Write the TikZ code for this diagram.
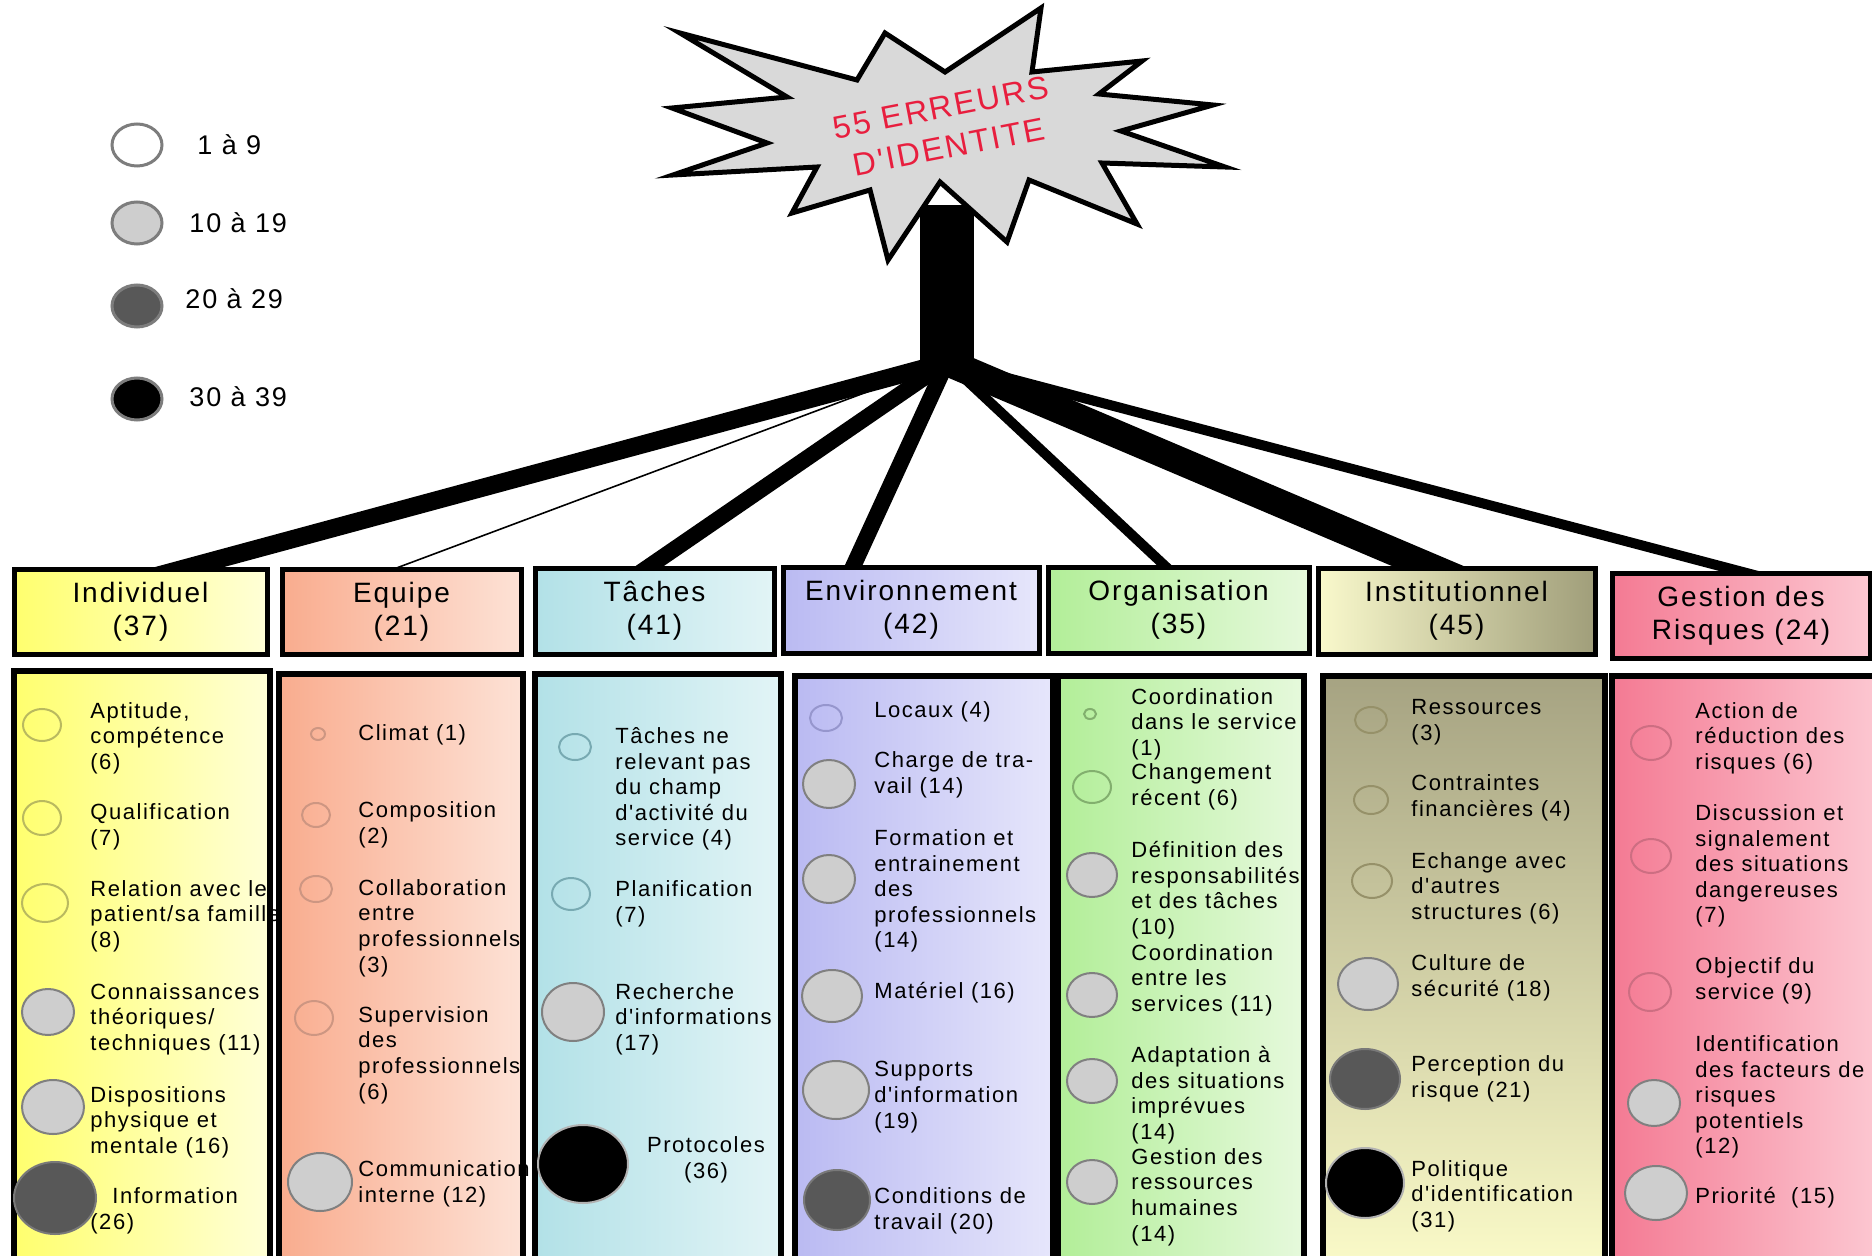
\documentclass[tikz,border=0pt]{standalone}
\usepackage{fontspec}
\setmainfont{Liberation Sans}[LetterSpace=7,Ligatures=TeXOff]
\usetikzlibrary{shapes.geometric,calc,backgrounds}

\definecolor{indL}{RGB}{255,255,110}
\definecolor{indR}{RGB}{255,255,215}
\definecolor{eqL}{RGB}{249,172,142}
\definecolor{eqR}{RGB}{253,226,214}
\definecolor{taL}{RGB}{178,225,231}
\definecolor{taR}{RGB}{226,244,246}
\definecolor{enL}{RGB}{186,186,242}
\definecolor{enR}{RGB}{230,230,251}
\definecolor{orL}{RGB}{178,238,152}
\definecolor{orR}{RGB}{230,249,220}
\definecolor{inL}{RGB}{249,249,204}
\definecolor{inR}{RGB}{160,158,122}
\definecolor{inT}{RGB}{166,163,130}
\definecolor{inB}{RGB}{250,250,200}
\definecolor{geL}{RGB}{244,122,147}
\definecolor{geR}{RGB}{252,200,210}
\definecolor{indDot}{RGB}{185,185,95}
\definecolor{eqDot}{RGB}{205,150,130}
\definecolor{taDot}{RGB}{120,170,178}
\definecolor{enDot}{RGB}{150,150,205}
\definecolor{orDot}{RGB}{130,175,110}
\definecolor{inDot}{RGB}{150,145,105}
\definecolor{geDot}{RGB}{205,110,130}
\definecolor{midgray}{RGB}{206,206,206}
\definecolor{darkdot}{RGB}{88,88,88}
\definecolor{legborder}{RGB}{125,125,125}
\definecolor{starfill}{RGB}{217,217,217}
\definecolor{titlered}{RGB}{232,30,62}

\tikzset{
  hdr/.style={draw,line width=2.5pt,align=center,inner sep=0pt,
    font=\fontsize{14}{16.7}\selectfont},
  box/.style={draw,line width=3pt},
  txt/.style={anchor=west,align=left,inner sep=0pt,
    font=\fontsize{11}{12.8}\selectfont},
  dot/.style={ellipse,inner sep=0pt,line width=1pt},
  dotlow/.style={dot,draw=#1},
  dotmid/.style={dot,draw=gray,fill=midgray},
  dothigh/.style={dot,draw=darkdot!80!white,fill=darkdot},
  dotmax/.style={dot,draw=gray!60,fill=black},
  leg/.style={ellipse,inner sep=0pt,minimum width=25pt,minimum height=21pt,
    line width=1.5pt,draw=legborder},
  legtxt/.style={anchor=west,inner sep=0pt,font=\fontsize{13.5}{16}\selectfont},
  burst/.style={draw,line width=2.5pt,fill=starfill,line join=miter},
  titre/.style={text=titlered,align=center,font=\fontsize{16}{20}\selectfont},
  link/.style={draw=black,line cap=butt}
}

\begin{document}
\begin{tikzpicture}[x=0.5pt,y=-0.5pt]
\useasboundingbox (0,0) rectangle (1872,1256);

% legend
\node[leg,fill=white] (l1) at (137,145) {};
\node[legtxt] (l1t) at (197,145) {1 à 9};
\node[leg,fill=midgray] (l2) at (137,223) {};
\node[legtxt] (l2t) at (189,223) {10 à 19};
\node[leg,fill=darkdot] (l3) at (137,306) {};
\node[legtxt] (l3t) at (185,299) {20 à 29};
\node[leg,fill=black] (l4) at (137,399) {};
\node[legtxt] (l4t) at (189,397) {30 à 39};

% star and rod
\fill (920,205) rectangle (974,372);
\draw[burst] (680,33) -- (857,80) -- (885,33) -- (945,72) -- (1041,8)
  -- (1032,72) -- (1142,61) -- (1099,94) -- (1213,105) -- (1121,131)
  -- (1225,167) -- (1102,163) -- (1137,224) -- (1029,180) -- (1007,242)
  -- (940,182) -- (888,260) -- (870,190) -- (792,213) -- (817,167)
  -- (673,175) -- (767,143) -- (672,108) -- (787,97) -- cycle;
\node[titre,rotate=11] (titre) at (945,127) {55 ERREURS\\D'IDENTITE};
\coordinate (hub) at (947,362);

% headers
\node[hdr,left color=indL,right color=indR,minimum width=126.5pt,minimum height=42.5pt] (hInd) at (140.5,611.5) {Individuel\\(37)};
\node[hdr,left color=eqL,right color=eqR,minimum width=119.5pt,minimum height=42.5pt] (hEq) at (401.5,611.5) {Equipe\\(21)};
\node[hdr,left color=taL,right color=taR,minimum width=119.5pt,minimum height=43pt] (hTa) at (654.5,611) {Tâches\\(41)};
\node[hdr,left color=enL,right color=enR,minimum width=128pt,minimum height=43pt] (hEn) at (911,610) {Environnement\\(42)};
\node[hdr,left color=orL,right color=orR,minimum width=130.5pt,minimum height=43pt] (hOr) at (1178.5,610) {Organisation\\(35)};
\node[hdr,left color=inL,right color=inR,minimum width=138.5pt,minimum height=43pt] (hIn) at (1456.5,611) {Institutionnel\\(45)};
\node[hdr,left color=geL,right color=geR,minimum width=129pt,minimum height=42.5pt] (hGe) at (1741,615.5) {Gestion des\\Risques (24)};

% links
\coordinate (eInd) at ($(hInd.north)+(51,0)$);
\coordinate (eEq) at ($(hEq.north)+(-1,0)$);
\coordinate (eTa) at ($(hTa.north)+(-4,0)$);
\coordinate (eEn) at ($(hEn.north)+(-57,0)$);
\coordinate (eOr) at ($(hOr.north)+(-15,0)$);
\coordinate (eIn) at ($(hIn.north)+(-30,0)$);
\coordinate (eGe) at ($(hGe.north)+(-4,0)$);
\begin{scope}[on background layer]
\draw[link,line width=9pt] (hub) -- ($(hub)!1.15!(eInd)$);
\draw[link,line width=0.8pt] (hub) -- ($(hub)!1.15!(eEq)$);
\draw[link,line width=8pt] (hub) -- ($(hub)!1.15!(eTa)$);
\draw[link,line width=8pt] (hub) -- ($(hub)!1.15!(eEn)$);
\draw[link,line width=5pt] (hub) -- ($(hub)!1.15!(eOr)$);
\draw[link,line width=14pt] (hub) -- ($(hub)!1.15!(eIn)$);
\draw[link,line width=5pt] (hub) -- ($(hub)!1.15!(eGe)$);
\end{scope}

% detail boxes
\draw[box,left color=indL,right color=indR] (14,671) rectangle (270,1265);
\draw[box,left color=eqL,right color=eqR] (279,674) rectangle (523,1265);
\draw[box,left color=taL,right color=taR] (535,674) rectangle (781,1265);
\draw[box,left color=enL,right color=enR] (795,676) rectangle (1053,1265);
\draw[box,left color=orL,right color=orR] (1058,676) rectangle (1304,1265);
\draw[box,top color=inT,bottom color=inB] (1323,676) rectangle (1605,1265);
\draw[box,left color=geL,right color=geR] (1612,676) rectangle (1880,1265);

% Individuel
\node[dotlow=indDot,minimum width=19pt,minimum height=16pt] (ind1) at (42,725) {};
\node[txt] (ind1t) at (90,738) {Aptitude,\\compétence\\(6)};
\node[dotlow=indDot,minimum width=19pt,minimum height=17pt] (ind2) at (42,818) {};
\node[txt] (ind2t) at (90,827) {Qualification\\(7)};
\node[dotlow=indDot,minimum width=23pt,minimum height=19pt] (ind3) at (45,903) {};
\node[txt] (ind3t) at (90,916) {Relation avec le\\patient/sa famille\\(8)};
\node[dotmid,minimum width=26pt,minimum height=23pt] (ind4) at (48,1012) {};
\node[txt] (ind4t) at (90,1019) {Connaissances\\théoriques/\\techniques (11)};
\node[dotmid,minimum width=31pt,minimum height=27pt] (ind5) at (53,1107) {};
\node[txt] (ind5t) at (90,1122) {Dispositions\\physique et\\mentale (16)};
\node[dothigh,minimum width=41pt,minimum height=36pt] (ind6) at (55,1198) {};
\node[txt] (ind6t) at (90,1211) {\hspace*{11pt}Information\\(26)};

% Equipe
\node[dotlow=eqDot,minimum width=7pt,minimum height=6pt] (eq1) at (318,734) {};
\node[txt] (eq1t) at (358,735) {Climat (1)};
\node[dotlow=eqDot,minimum width=14pt,minimum height=12pt] (eq2) at (316,815) {};
\node[txt] (eq2t) at (358,825) {Composition\\(2)};
\node[dotlow=eqDot,minimum width=16pt,minimum height=13pt] (eq3) at (316,889) {};
\node[txt] (eq3t) at (358,928) {Collaboration\\entre\\professionnels\\(3)};
\node[dotlow=eqDot,minimum width=19pt,minimum height=17pt] (eq4) at (314,1018) {};
\node[txt] (eq4t) at (358,1055) {Supervision\\des\\professionnels\\(6)};
\node[dotmid,minimum width=32pt,minimum height=29pt] (eq5) at (320,1182) {};
\node[txt] (eq5t) at (358,1184) {Communication\\interne (12)};

% Taches
\node[dotlow=taDot,minimum width=16pt,minimum height=13pt] (ta1) at (575,747) {};
\node[txt] (ta1t) at (615,789) {Tâches ne\\relevant pas\\du champ\\d'activité du\\service (4)};
\node[dotlow=taDot,minimum width=19pt,minimum height=16pt] (ta2) at (571,894) {};
\node[txt] (ta2t) at (615,904) {Planification\\(7)};
\node[dotmid,minimum width=31pt,minimum height=29pt] (ta3) at (573,1012) {};
\node[txt] (ta3t) at (615,1019) {Recherche\\d'informations\\(17)};
\node[dotmax,minimum width=45pt,minimum height=39pt] (ta4) at (583,1164) {};
\node[txt,anchor=center,align=center] (ta4t) at (706,1160) {Protocoles\\(36)};

% Environnement
\node[dotlow=enDot,minimum width=16pt,minimum height=13pt] (en1) at (826,718) {};
\node[txt] (en1t) at (874,712) {Locaux (4)};
\node[dotmid,minimum width=26pt,minimum height=24pt] (en2) at (829,784) {};
\node[txt] (en2t) at (874,775) {Charge de tra-\\vail (14)};
\node[dotmid,minimum width=26pt,minimum height=24pt] (en3) at (829,879) {};
\node[txt] (en3t) at (874,891) {Formation et\\entrainement\\des\\professionnels\\(14)};
\node[dotmid,minimum width=30pt,minimum height=26pt] (en4) at (832,996) {};
\node[txt] (en4t) at (874,993) {Matériel (16)};
\node[dotmid,minimum width=33pt,minimum height=29pt] (en5) at (836,1090) {};
\node[txt] (en5t) at (874,1097) {Supports\\d'information\\(19)};
\node[dothigh,minimum width=33pt,minimum height=30pt] (en6) at (837,1200) {};
\node[txt] (en6t) at (874,1211) {Conditions de\\travail (20)};

% Organisation
\node[dotlow=orDot,minimum width=6pt,minimum height=5pt] (or1) at (1090,714) {};
\node[txt] (or1t) at (1131,724) {Coordination\\dans le service\\(1)};
\node[dotlow=orDot,minimum width=19pt,minimum height=16pt] (or2) at (1092,787) {};
\node[txt] (or2t) at (1131,787) {Changement\\récent (6)};
\node[dotmid,minimum width=25pt,minimum height=22pt] (or3) at (1092,875) {};
\node[txt] (or3t) at (1131,890) {Définition des\\responsabilités\\et des tâches\\(10)};
\node[dotmid,minimum width=25pt,minimum height=22pt] (or4) at (1092,995) {};
\node[txt] (or4t) at (1131,980) {Coordination\\entre les\\services (11)};
\node[dotmid,minimum width=25pt,minimum height=22pt] (or5) at (1092,1081) {};
\node[txt] (or5t) at (1131,1095) {Adaptation à\\des situations\\imprévues\\(14)};
\node[dotmid,minimum width=25pt,minimum height=22pt] (or6) at (1092,1182) {};
\node[txt] (or6t) at (1131,1197) {Gestion des\\ressources\\humaines\\(14)};

% Institutionnel
\node[dotlow=inDot,minimum width=16pt,minimum height=13pt] (in1) at (1371,720) {};
\node[txt] (in1t) at (1411,722) {Ressources\\(3)};
\node[dotlow=inDot,minimum width=17pt,minimum height=14pt] (in2) at (1371,800) {};
\node[txt] (in2t) at (1411,798) {Contraintes\\financières (4)};
\node[dotlow=inDot,minimum width=20pt,minimum height=17pt] (in3) at (1372,881) {};
\node[txt] (in3t) at (1411,888) {Echange avec\\d'autres\\structures (6)};
\node[dotmid,minimum width=30pt,minimum height=26pt] (in4) at (1368,984) {};
\node[txt] (in4t) at (1411,978) {Culture de\\sécurité (18)};
\node[dothigh,minimum width=35pt,minimum height=30pt] (in5) at (1365,1079) {};
\node[txt] (in5t) at (1411,1079) {Perception du\\risque (21)};
\node[dotmax,minimum width=39pt,minimum height=35pt] (in6) at (1365,1183) {};
\node[txt] (in6t) at (1411,1196) {Politique\\d'identification\\(31)};

% Gestion des risques
\node[dotlow=geDot,minimum width=20pt,minimum height=17pt] (ge1) at (1651,743) {};
\node[txt] (ge1t) at (1695,738) {Action de\\réduction des\\risques (6)};
\node[dotlow=geDot,minimum width=20pt,minimum height=17pt] (ge2) at (1651,856) {};
\node[txt] (ge2t) at (1695,866) {Discussion et\\signalement\\des situations\\dangereuses\\(7)};
\node[dotlow=geDot,minimum width=21pt,minimum height=19pt] (ge3) at (1650,992) {};
\node[txt] (ge3t) at (1695,981) {Objectif du\\service (9)};
\node[dotmid,minimum width=26pt,minimum height=23pt] (ge4) at (1654,1103) {};
\node[txt] (ge4t) at (1695,1097) {Identification\\des facteurs de\\risques\\potentiels\\(12)};
\node[dotmid,minimum width=31pt,minimum height=27pt] (ge5) at (1656,1193) {};
\node[txt] (ge5t) at (1695,1198) {Priorité~~(15)};
\end{tikzpicture}
\end{document}
